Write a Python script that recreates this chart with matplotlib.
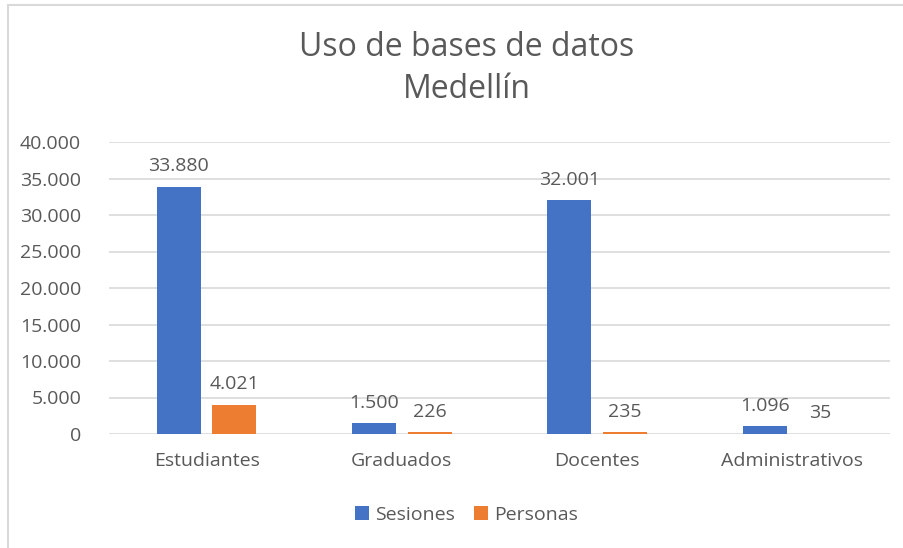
import numpy as np
import matplotlib.pyplot as plt
from matplotlib.patches import Rectangle
from matplotlib.ticker import FuncFormatter

plt.rcParams['font.family'] = ['Open Sans', 'DejaVu Sans']

categorias = ['Estudiantes', 'Graduados', 'Docentes', 'Administrativos']
sesiones = [33880, 1500, 32001, 1096]
personas = [4021, 226, 235, 35]
series = ['Sesiones', 'Personas']

gris = '#595959'
azul = '#4472C4'
naranja = '#ED7D31'
fs = 14


def miles(v):
    return f'{int(round(v)):,}'.replace(',', '.')


fig = plt.figure(figsize=(9.04, 5.48), dpi=100)
ax = fig.add_axes([109 / 904, 1 - 434 / 548, 781 / 904, 292 / 548])

x = np.arange(len(categorias))
w = 0.225
off = 0.142
b1 = ax.bar(x - off, sesiones, w, color=azul, label=series[0], zorder=3)
b2 = ax.bar(x + off, personas, w, color=naranja, label=series[1], zorder=3)

for bars in (b1, b2):
    for r in bars:
        ax.annotate(miles(r.get_height()), (r.get_x() + r.get_width() / 2, r.get_height()),
                    xytext=(0, 11), textcoords='offset points', ha='center', va='baseline',
                    fontsize=fs, color=gris)

ax.set_xlim(-0.5, len(categorias) - 0.5)
ax.set_ylim(0, 40000)
ax.set_yticks(np.arange(0, 40001, 5000))
ax.yaxis.set_major_formatter(FuncFormatter(lambda v, p: miles(v)))
ax.set_xticks(x)
ax.set_xticklabels(categorias)
ax.tick_params(axis='both', length=0, labelsize=fs, labelcolor=gris)
ax.tick_params(axis='x', pad=13)
ax.tick_params(axis='y', pad=20)
ax.grid(axis='y', color='#d9d9d9', lw=1.2, zorder=0)
for s in ax.spines.values():
    s.set_visible(False)

fig.text(0.516, 1 - 48 / 548, 'Uso de bases de datos', ha='center', va='center', fontsize=23, color=gris)
fig.text(0.516, 1 - 89 / 548, 'Medellín', ha='center', va='center', fontsize=23, color=gris)

fig.legend(handles=[b1, b2], loc='center', bbox_to_anchor=(0.516, 1 - 515 / 548), ncol=2,
           frameon=False, fontsize=fs, labelcolor=gris, handlelength=0.7, handleheight=0.7,
           handletextpad=0.3, columnspacing=1.0)

fig.add_artist(Rectangle((8 / 904, -0.1), 1.2, 1 - 5 / 548 + 0.1, transform=fig.transFigure,
                         fill=False, ec='#d9d9d9', lw=1.5))

fig.savefig('out.png', dpi=100)
